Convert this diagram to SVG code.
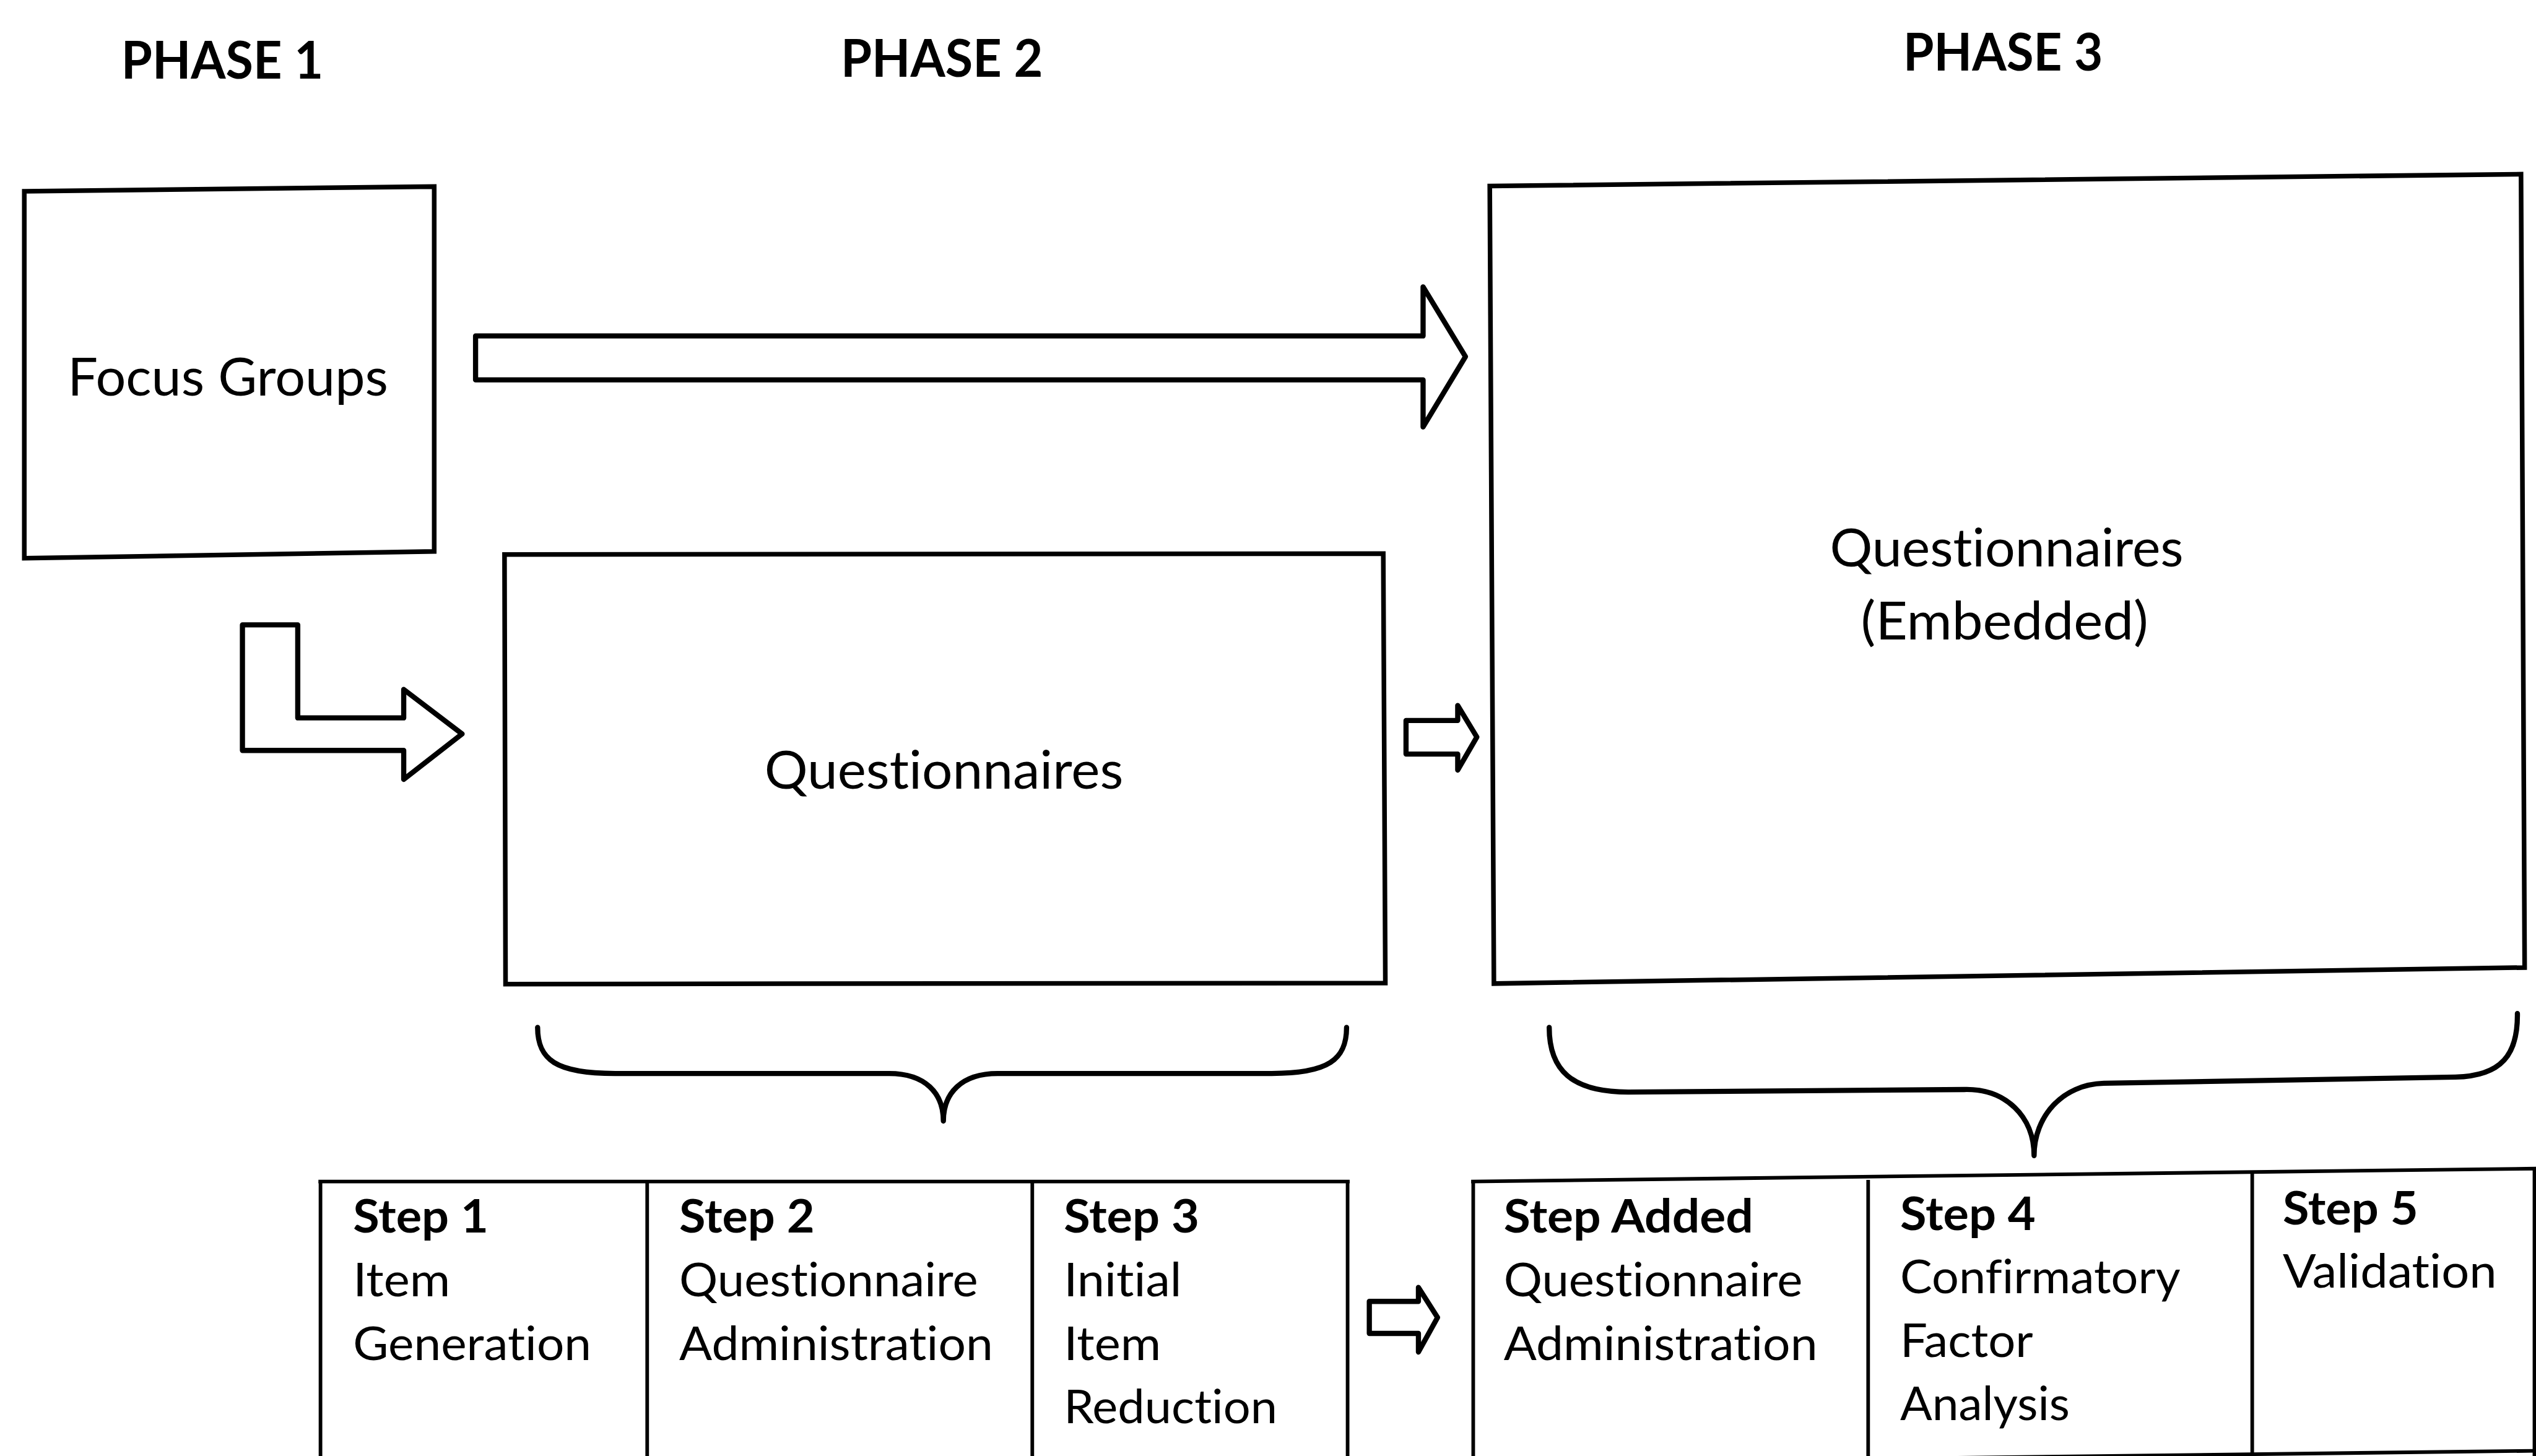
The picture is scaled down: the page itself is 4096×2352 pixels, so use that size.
<svg xmlns="http://www.w3.org/2000/svg" width="4096" height="2352" viewBox="0 0 4096 2352">
<style>
.box{fill:#fff;stroke:#000;stroke-width:9;stroke-linejoin:miter}
.ln{fill:none;stroke:#000;stroke-width:7}
.arr{fill:#fff;stroke:#000;stroke-width:10;stroke-linejoin:round}
.brace{fill:none;stroke:#000;stroke-width:10;stroke-linecap:round;stroke-linejoin:round}
text{font-family:Lato,"Liberation Sans",sans-serif;fill:#000;font-variant-ligatures:none;font-feature-settings:"liga" 0,"clig" 0}
.ph{font-weight:700;font-size:101px;text-anchor:middle}
.big{font-size:101px;text-anchor:middle}
.st{font-size:90px}
.stb{font-size:90px;font-weight:700}
</style>
<rect width="4096" height="2352" fill="#fff"/>
<g transform="scale(0.8349)">
  <g id="phase-labels">
    <text class="ph" x="430" y="152" textLength="391" lengthAdjust="spacingAndGlyphs">PHASE 1</text>
    <text class="ph" x="1822" y="149" textLength="391" lengthAdjust="spacingAndGlyphs">PHASE 2</text>
    <text class="ph" x="3875" y="136" textLength="386" lengthAdjust="spacingAndGlyphs">PHASE 3</text>
  </g>
  <g id="focus-groups">
    <polygon class="box" points="47,370 840,361 840,1067 47,1080"/>
    <text class="big" x="441" y="765" textLength="620" lengthAdjust="spacingAndGlyphs">Focus Groups</text>
  </g>
  <g id="questionnaires">
    <polygon class="box" points="976,1073 2676,1071 2680,1902 978,1904"/>
    <text class="big" x="1826" y="1526" textLength="694" lengthAdjust="spacingAndGlyphs">Questionnaires</text>
  </g>
  <g id="questionnaires-embedded">
    <polygon class="box" points="2882,360 4877,337 4884,1872 2890,1903"/>
    <text class="big" x="3882" y="1096" textLength="684" lengthAdjust="spacingAndGlyphs">Questionnaires</text>
    <text class="big" x="3878" y="1237" textLength="556" lengthAdjust="spacingAndGlyphs">(Embedded)</text>
  </g>
  <g id="steps-phase2">
    <g id="step1">
      <path class="ln" d="M620,2286 L620,2830"/>
      <text class="stb" x="683" y="2385" textLength="262" lengthAdjust="spacingAndGlyphs">Step 1</text>
      <text class="st" x="683" y="2508" textLength="188" lengthAdjust="spacingAndGlyphs">Item</text>
      <text class="st" x="683" y="2631" textLength="461" lengthAdjust="spacingAndGlyphs">Generation</text>
    </g>
    <g id="step2">
      <path class="ln" d="M1252,2286 L1252,2830"/>
      <text class="stb" x="1314" y="2385" textLength="262" lengthAdjust="spacingAndGlyphs">Step 2</text>
      <text class="st" x="1314" y="2508" textLength="578" lengthAdjust="spacingAndGlyphs">Questionnaire</text>
      <text class="st" x="1314" y="2631" textLength="607" lengthAdjust="spacingAndGlyphs">Administration</text>
    </g>
    <g id="step3">
      <path class="ln" d="M1997,2286 L1997,2830"/>
      <path class="ln" d="M2607,2286 L2607,2830"/>
      <text class="stb" x="2058" y="2385" textLength="262" lengthAdjust="spacingAndGlyphs">Step 3</text>
      <text class="st" x="2058" y="2508" textLength="228" lengthAdjust="spacingAndGlyphs">Initial</text>
      <text class="st" x="2058" y="2631" textLength="188" lengthAdjust="spacingAndGlyphs">Item</text>
      <text class="st" x="2058" y="2754" textLength="413" lengthAdjust="spacingAndGlyphs">Reduction</text>
    </g>
    <path class="ln" d="M616,2286 L2611,2286" stroke-width="9"/>
  </g>
  <g id="steps-phase3">
    <g id="step-added">
      <path class="ln" d="M2850,2286 L2850,2830"/>
      <text class="stb" x="2909" y="2385" textLength="483" lengthAdjust="spacingAndGlyphs">Step Added</text>
      <text class="st" x="2909" y="2508" textLength="578" lengthAdjust="spacingAndGlyphs">Questionnaire</text>
      <text class="st" x="2909" y="2631" textLength="607" lengthAdjust="spacingAndGlyphs">Administration</text>
    </g>
    <g id="step4">
      <path class="ln" d="M3614,2283 L3614,2830"/>
      <text class="stb" x="3676" y="2380" textLength="262" lengthAdjust="spacingAndGlyphs">Step 4</text>
      <text class="st" x="3676" y="2502" textLength="542" lengthAdjust="spacingAndGlyphs">Confirmatory</text>
      <text class="st" x="3676" y="2625" textLength="257" lengthAdjust="spacingAndGlyphs">Factor</text>
      <text class="st" x="3676" y="2748" textLength="328" lengthAdjust="spacingAndGlyphs">Analysis</text>
    </g>
    <g id="step5">
      <path class="ln" d="M4357,2270 L4357,2830"/>
      <path class="ln" d="M4903,2261 L4903,2830"/>
      <text class="stb" x="4416" y="2369" textLength="262" lengthAdjust="spacingAndGlyphs">Step 5</text>
      <text class="st" x="4416" y="2491" textLength="414" lengthAdjust="spacingAndGlyphs">Validation</text>
    </g>
    <path class="ln" d="M2846,2286 L4906,2261" stroke-width="9"/>
    <path class="ln" d="M2850,2832 L4906,2807" stroke-width="9"/>
  </g>
  <g id="connectors">
    <polygon class="arr" points="920,650 2753,650 2753,555 2835,690 2753,826 2753,735 920,735"/>
    <polygon class="arr" points="469,1209 576,1209 576,1389 781,1389 781,1334 894,1420 781,1508 781,1452 469,1452"/>
    <polygon class="arr" points="2720,1394 2820,1394 2820,1365 2857,1426 2820,1490 2820,1459 2720,1459"/>
    <polygon class="arr" points="2649,2518 2744,2518 2744,2491 2781,2549 2744,2616 2744,2580 2649,2580"/>
    <path class="brace" d="M1040,1988 C1040,2050 1075,2077 1190,2077 L1720,2077 C1790,2077 1825,2115 1825,2169 C1825,2115 1860,2077 1930,2077 L2460,2077 C2570,2077 2605,2050 2605,1988"/>
    <path class="brace" d="M2997,1988 C2997,2070 3040,2113 3150,2113 L3800,2108 C3880,2106 3935,2160 3935,2236 C3935,2160 3990,2098 4070,2096 L4750,2084 C4840,2082 4871,2040 4870,1961"/>
  </g>
</g>
</svg>
